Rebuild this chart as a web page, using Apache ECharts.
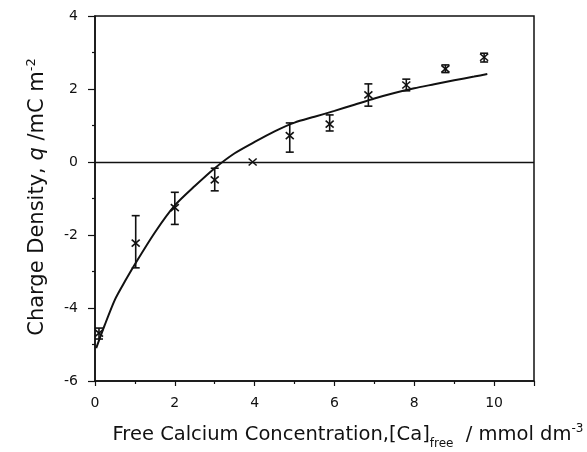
<!DOCTYPE html>
<html>
<head>
<meta charset="utf-8">
<script src="https://cdn.jsdelivr.net/npm/echarts@6/dist/echarts.min.js"></script>
<style>
html,body{margin:0;padding:0;background:#fff;}
#chart{width:587px;height:452px;}
</style>
</head>
<body>
<div id="chart"></div>
<script>
// Measured data points
var pointX   = [0.1, 1.02, 2.0, 3.0, 3.95, 4.88, 5.88, 6.85, 7.8, 8.78, 9.75];
var pointY   = [-4.69, -2.22, -1.25, -0.49, 0.0, 0.72, 1.04, 1.84, 2.11, 2.55, 2.87];
var errHigh  = [-4.55, -1.47, -0.83, -0.17, null, 1.07, 1.29, 2.14, 2.27, 2.66, 2.98];
var errLow   = [-4.85, -2.90, -1.71, -0.79, null, 0.27, 0.85, 1.53, 1.95, 2.45, 2.74];
// Fitted curve
var curveX = [0.03, 0.25, 0.5, 0.75, 1.0, 1.5, 2.0, 2.5, 3.0, 3.5, 4.0, 4.5, 5.0, 5.5, 6.0, 6.5, 7.0, 7.5, 8.0, 8.5, 9.0, 9.5, 9.83];
var curveY = [-5.1, -4.45, -3.77, -3.27, -2.8, -1.93, -1.19, -0.66, -0.17, 0.24, 0.55, 0.84, 1.08, 1.24, 1.40, 1.57, 1.74, 1.89, 2.02, 2.13, 2.24, 2.34, 2.41];

var FONT = 'DejaVu Sans';
var chart = echarts.init(document.getElementById('chart'), null, {renderer: 'canvas'});

var pts = pointX.map(function (x, i) { return [x, pointY[i]]; });
var curve = curveX.map(function (x, i) { return [x, curveY[i]]; });

function renderPoint(params, api) {
  var i = params.dataIndex;
  var x = api.value(0), y = api.value(1);
  var lo = errLow[i], hi = errHigh[i];
  var c = api.coord([x, y]);
  var st = {stroke: '#111', lineWidth: 1.6, fill: 'none'};
  var children = [
    {type: 'line', shape: {x1: c[0] - 4, y1: c[1] - 3.5, x2: c[0] + 4, y2: c[1] + 3.5}, style: st},
    {type: 'line', shape: {x1: c[0] - 4, y1: c[1] + 3.5, x2: c[0] + 4, y2: c[1] - 3.5}, style: st}
  ];
  if (lo !== null && hi !== null) {
    var a = api.coord([x, hi]), b = api.coord([x, lo]);
    children.push({type: 'line', shape: {x1: a[0], y1: a[1], x2: b[0], y2: b[1]}, style: st});
    children.push({type: 'line', shape: {x1: a[0] - 4, y1: a[1], x2: a[0] + 4, y2: a[1]}, style: st});
    children.push({type: 'line', shape: {x1: b[0] - 4, y1: b[1], x2: b[0] + 4, y2: b[1]}, style: st});
  }
  return {type: 'group', children: children};
}

chart.setOption({
  animation: false,
  backgroundColor: '#fff',
  grid: {left: 95, right: 53, top: 16, bottom: 71, show: true, borderColor: '#111', borderWidth: 1.5, backgroundColor: 'transparent'},
  xAxis: {
    type: 'value', min: 0, max: 11, interval: 2,
    axisLine: {show: true, onZero: false, lineStyle: {color: '#111', width: 1.5}},
    axisTick: {show: true, inside: false, length: 5, lineStyle: {color: '#111', width: 1.2}},
    minorTick: {show: true, splitNumber: 2, length: 3, lineStyle: {color: '#111', width: 1.2}},
    splitLine: {show: false},
    axisLabel: {color: '#111', fontFamily: FONT, fontSize: 14, margin: 15,
      formatter: function (v) { return v > 10 ? '' : String(v); }}
  },
  yAxis: {
    type: 'value', min: -6, max: 4, interval: 2,
    axisLine: {show: true, onZero: false, lineStyle: {color: '#111', width: 1.5}},
    axisTick: {show: true, inside: false, length: 7, lineStyle: {color: '#111', width: 1.2}},
    minorTick: {show: true, splitNumber: 2, length: 3, lineStyle: {color: '#111', width: 1.2}},
    splitLine: {show: false},
    axisLabel: {color: '#111', fontFamily: FONT, fontSize: 14, margin: 17}
  },
  series: [
    {
      type: 'line', data: curve, smooth: 0.25, symbol: 'none',
      lineStyle: {color: '#111', width: 2},
      markLine: {
        silent: true, symbol: 'none', label: {show: false},
        lineStyle: {color: '#111', width: 1.3, type: 'solid'},
        data: [{yAxis: 0}]
      }
    },
    {
      type: 'custom', data: pts, renderItem: renderPoint, clip: false,
      encode: {x: 0, y: 1}
    }
  ],
  graphic: [
    {
      type: 'text', x: 348, y: 435,
      style: {
        x: 0, y: 0, align: 'center', verticalAlign: 'middle',
        rich: {
          m: {fontFamily: FONT, fontSize: 19.5, fill: '#111'},
          sub: {fontFamily: FONT, fontSize: 12, fill: '#111', padding: [18, 0, 0, 0]},
          sup: {fontFamily: FONT, fontSize: 12, fill: '#111', padding: [0, 0, 12, 0]}
        },
        text: '{m|Free Calcium Concentration,[Ca]}{sub|free}{m|  / mmol dm}{sup|-3}'
      }
    },
    {
      type: 'text', x: 38, y: 197, rotation: Math.PI / 2,
      style: {
        x: 0, y: 0, align: 'center', verticalAlign: 'middle',
        rich: {
          m: {fontFamily: FONT, fontSize: 21, fill: '#111'},
          i: {fontFamily: FONT, fontSize: 21, fill: '#111', fontStyle: 'italic'},
          sup: {fontFamily: FONT, fontSize: 13, fill: '#111', padding: [0, 0, 12, 0]}
        },
        text: '{m|Charge Density, }{i|q}{m| /mC m}{sup|-2}'
      }
    }
  ]
});
</script>
</body>
</html>
